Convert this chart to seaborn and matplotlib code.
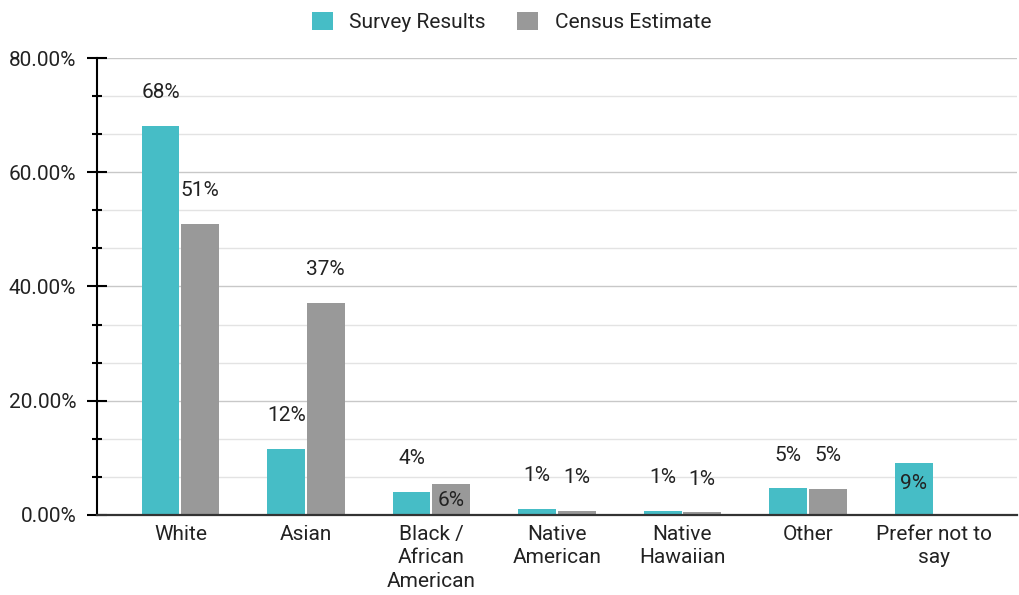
import numpy as np
import pandas as pd
import matplotlib
matplotlib.use("Agg")
import matplotlib.pyplot as plt
from matplotlib.ticker import MultipleLocator, FuncFormatter
from matplotlib.patches import Patch
import seaborn as sns

categories = ["White", "Asian", "Black /\nAfrican\nAmerican", "Native\nAmerican",
              "Native\nHawaiian", "Other", "Prefer not to\nsay"]
survey = [68.1, 11.6, 4.1, 1.0, 0.75, 4.65, 9.15]
census = [50.9, 37.1, 5.5, 0.75, 0.45, 4.6, np.nan]
survey_labels = ["68%", "12%", "4%", "1%", "1%", "5%", "9%"]
census_labels = ["51%", "37%", "6%", "1%", "1%", "5%", ""]
series = ["Survey Results", "Census Estimate"]

df = pd.DataFrame({
    "Category": categories * 2,
    "Series": [series[0]] * 7 + [series[1]] * 7,
    "Value": survey + census,
})
df = df.dropna()

colors = {"Survey Results": "#46bdc6", "Census Estimate": "#999999"}

sns.set_style("white")
plt.rcParams["font.family"] = ["Roboto", "DejaVu Sans"]
fs = 15

fig = plt.figure(figsize=(10.19, 5.95), dpi=100)
ax = fig.add_axes([0.0952, 0.1345, 0.9028, 0.768])

sns.barplot(data=df, x="Category", y="Value", hue="Series", order=categories,
            hue_order=series, palette=colors, width=0.63, gap=0.05,
            saturation=1, linewidth=0, ax=ax, legend=False)

ax.set_xlim(-0.665, 6.665)
ax.set_ylim(0, 80)
ax.yaxis.set_major_locator(MultipleLocator(20))
ax.yaxis.set_minor_locator(MultipleLocator(20 / 3))
ax.yaxis.set_major_formatter(FuncFormatter(lambda v, p: f"{v:.2f}%"))
ax.grid(axis="y", which="major", color="#c8c8c8", linewidth=1)
ax.grid(axis="y", which="minor", color="#e3e3e3", linewidth=1)
ax.set_axisbelow(True)

for s in ["top", "right"]:
    ax.spines[s].set_visible(False)
ax.spines["left"].set_color("black")
ax.spines["left"].set_linewidth(1.5)
ax.spines["bottom"].set_color("#333333")
ax.spines["bottom"].set_linewidth(1.6)
ax.spines["bottom"].set_zorder(3)

ax.tick_params(axis="y", which="major", left=True, direction="inout", length=15,
               width=1.5, color="black", labelsize=fs, pad=7.5, labelcolor="#222222")
ax.tick_params(axis="y", which="minor", left=True, direction="inout", length=7.5,
               width=1.5, color="black")
ax.tick_params(axis="x", length=0, labelsize=fs, pad=7, labelcolor="#222222")
for t in ax.get_xticklabels():
    t.set_linespacing(1.3)
ax.set_xlabel("")
ax.set_ylabel("")

# value labels
inside = {(1, 2): -12, (0, 6): -15}
label_sets = [survey_labels, census_labels]
for si, cont in enumerate(ax.containers):
    for bar in cont:
        cx = bar.get_x() + bar.get_width() / 2
        ci = int(round(cx))
        h = bar.get_height()
        if np.isnan(h):
            continue
        txt = label_sets[si][ci]
        off = inside.get((si, ci), 24)
        ax.annotate(txt, (cx, h), xytext=(0, off), textcoords="offset points",
                    ha="center", va="center", fontsize=fs, color="#222222")

handles = [Patch(facecolor=colors[s], edgecolor="none", label=s) for s in series]
fig.legend(handles=handles, loc="upper center", bbox_to_anchor=(0.502, 1.012),
           ncol=2, frameon=False, fontsize=fs, handlelength=1.0, handleheight=1.0,
           handletextpad=0.8, columnspacing=1.5, labelcolor="#222222")

fig.savefig("out.png", dpi=100)
